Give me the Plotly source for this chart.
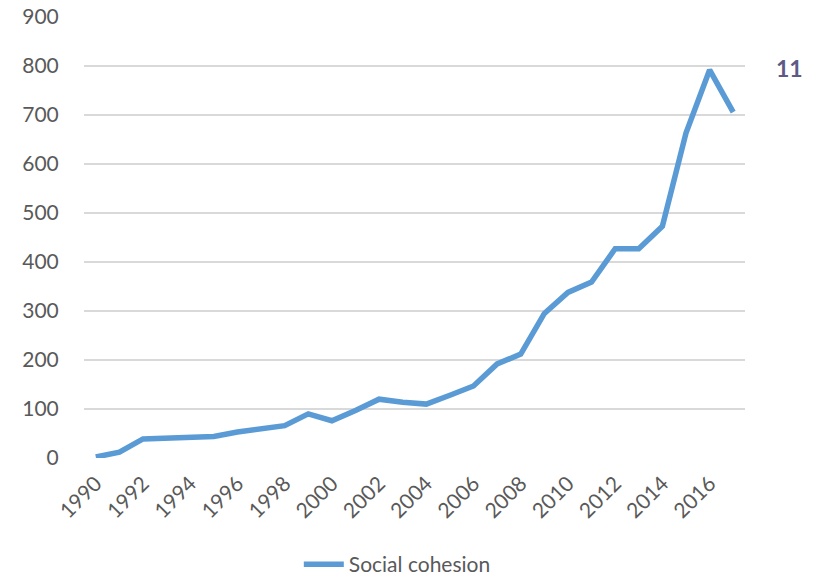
import plotly.graph_objects as go

# Annual counts, 1990-2017
years = list(range(1990, 2018))
social_cohesion = [2, 12, 39, 41, 43, 44, 53, 60, 66, 90, 76, 97, 120, 114, 110,
                   128, 147, 192, 212, 295, 338, 359, 427, 427, 473, 663, 792, 706]

tick_years = list(range(1990, 2017, 2))
y_ticks = list(range(0, 901, 100))

LINE_BLUE = "#5B9BD5"
TEXT_GREY = "#595959"
GRID_GREY = "#D9D9D9"
FONT = "Lato, 'Open Sans', sans-serif"

fig = go.Figure()
fig.add_trace(go.Scatter(
    x=years, y=social_cohesion, mode="lines", name="Social cohesion",
    line=dict(color=LINE_BLUE, width=5.5),
))

fig.update_layout(
    width=830, height=583,
    margin=dict(l=84, r=85, t=17, b=125, autoexpand=False),
    paper_bgcolor="white", plot_bgcolor="white",
    font=dict(family=FONT, size=21, color=TEXT_GREY),
    showlegend=True,
    legend=dict(orientation="h", x=0.474, xanchor="center", y=-0.195, yanchor="top",
                font=dict(size=21, color=TEXT_GREY), itemwidth=40),
    xaxis=dict(
        range=[1989.5, 2017.5], tickvals=tick_years, ticktext=[str(y) for y in tick_years],
        tickangle=-45, showgrid=False, zeroline=False, showline=False, automargin=False,
        ticks="outside", ticklen=4, tickcolor="white",
        tickfont=dict(size=21, color=TEXT_GREY),
    ),
    yaxis=dict(
        range=[0, 900], tickvals=y_ticks, showgrid=True, gridcolor=GRID_GREY,
        gridwidth=1.5, zeroline=False, showline=False, automargin=False,
        ticks="outside", ticklen=20, tickcolor="white",
        tickfont=dict(size=21, color=TEXT_GREY),
    ),
    annotations=[dict(
        text="<b>11</b>", xref="paper", yref="y", x=1.068, y=796, xanchor="center",
        showarrow=False, font=dict(size=23, color="#5E5A86", family=FONT),
    )],
)

fig.write_html("out.html")
